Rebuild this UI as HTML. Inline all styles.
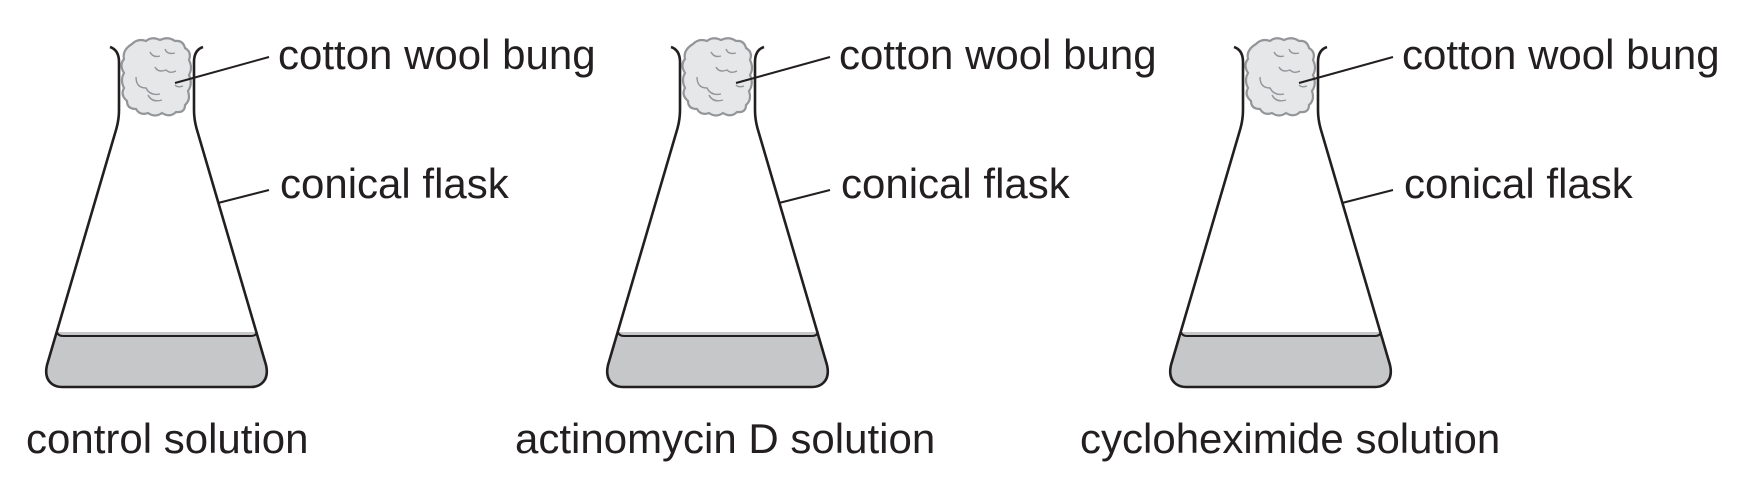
<!DOCTYPE html>
<html><head><meta charset="utf-8"><style>
html,body{margin:0;padding:0;background:#fff;}
svg{display:block;}
text{font-family:"Liberation Sans",sans-serif;font-size:42px;fill:#231f20;}
</style></head><body>
<svg width="1746" height="493" viewBox="0 0 1746 493" xmlns="http://www.w3.org/2000/svg">
<defs>
<g id="flask">
  <path d="M57,332 L47,365 Q44,378 52,384 Q56,387 62,387 L251,387 Q257,387 261,384 Q269,378 266,365 L257,332 Z" fill="#c6c7c9"/>
  <path d="M57,332 Q58,336 63,336 L251,336 Q256,336 257,332" fill="none" stroke="#231f20" stroke-width="2"/>
  <path d="M110,47 Q119,50 119,62 L119,110 Q119,120 116,130 L47,365 Q44,378 52,384 Q56,387 62,387 L251,387 Q257,387 261,384 Q269,378 266,365 L197,130 Q194,120 194,110 L194,62 Q194,50 203,47" fill="none" stroke="#231f20" stroke-width="2.6" stroke-linejoin="round"/>
  <path d="M132,44 Q138,38 146,41 Q152,36 160,40 Q168,36 175,41 Q183,40 185,48 Q192,52 189,60 Q193,68 189,75 Q193,84 188,91 Q191,100 185,105 Q185,113 176,112 Q170,118 162,113 Q155,118 148,113 Q140,116 136,109 Q127,109 127,101 Q120,95 124,88 Q120,80 124,73 Q119,65 124,59 Q122,50 132,44 Z" fill="#e6e7e8" stroke="#939598" stroke-width="2.2"/>
  <path d="M150,52 Q153,58 160,56 M165,49 Q167,55 175,53 M155,67 Q158,73 166,70 Q170,74 176,71 M136,77 Q136,88 146,88 Q150,96 160,94 M148,95 Q152,103 162,100 M175,85 Q178,88 183,86" fill="none" stroke="#939598" stroke-width="1.4"/>
  <line x1="175" y1="83" x2="269" y2="57" stroke="#231f20" stroke-width="2"/>
  <line x1="218" y1="203" x2="269" y2="190" stroke="#231f20" stroke-width="2"/>
  <text x="278" y="69">cotton wool bung</text>
  <text x="280" y="198">conical flask</text>
</g>
</defs>
<use href="#flask"/>
<use href="#flask" x="561"/>
<use href="#flask" x="1124"/>
<text x="26" y="453">control solution</text>
<text x="515" y="453">actinomycin D solution</text>
<text x="1080" y="453">cycloheximide solution</text>
</svg>
</body></html>
